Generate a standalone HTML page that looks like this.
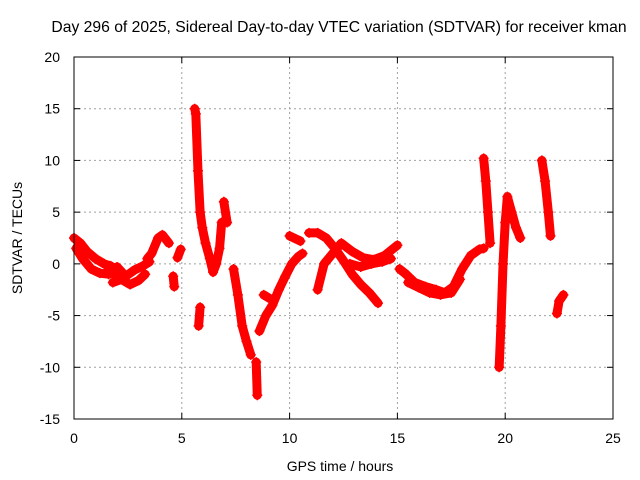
<!DOCTYPE html>
<html><head><meta charset="utf-8"><style>
body{margin:0;background:#fff}
svg{display:block;font-family:"Liberation Sans",sans-serif}
</style></head><body>
<svg id="chart" width="640" height="480">
<text x="339" y="32" text-anchor="middle" font-size="15.7">Day 296 of 2025, Sidereal Day-to-day VTEC variation (SDTVAR) for receiver kman</text>
<text x="340" y="471" text-anchor="middle" font-size="14">GPS time / hours</text>
<text transform="translate(22,238) rotate(-90)" text-anchor="middle" font-size="14">SDTVAR / TECUs</text>
<g id="grid"></g><g id="series"></g>
<rect x="74" y="57" width="539" height="362" fill="none" stroke="#000" stroke-width="1"/>
<g id="ticks"></g>
</svg>
<script>
const xTicks=[0,5,10,15,20,25];
const yTicks=[20,15,10,5,0,-5,-10,-15];
// traces: hours, values
const traceHours=[
[0,0.3,0.6,1.0,1.4,1.7],
[0.1,0.4,0.8,1.2,1.6,2.0],
[1.6,2.0,2.4,2.8,3.2,3.5],
[1.8,2.2,2.6,3.0,3.3],
[3.4,3.6,3.9,4.1,4.4],
[4.6,4.65],[4.8,4.95],
[5.6,5.65,5.75,5.85,5.95,6.1,6.3,6.45,6.6,6.75,6.85],
[5.78,5.85],[6.95,7.1],
[7.4,7.6,7.8,8.0,8.2],
[8.45,8.5],
[8.6,8.9,9.2,9.5,9.8,10.1,10.4,10.6],
[8.8,9.2],
[10.0,10.5],
[10.9,11.3,11.7,12.1,12.5,12.9,13.3,13.7,14.1],
[11.3,11.6,12.0,12.4,12.9,13.4,13.9,14.4,15.0],
[12.8,13.3,13.8,14.3,14.7],
[15.1,15.4,15.8,16.3,16.8,17.2,17.6,18.0,18.4,18.8,19.0],
[15.5,16.0,16.5,17.0,17.5,17.9],
[19.0,19.1,19.2,19.3],
[19.72,19.8,19.9,20.0,20.1,20.3,20.5,20.7],
[21.7,21.85,22.0,22.1],
[22.4,22.5,22.7]
];
const traceValues=[
[2.5,2,1.2,0.5,0,-0.2],
[1.5,0.5,-0.5,-0.9,-1,-0.8],
[-0.5,-0.3,-1.2,-0.6,-0.2,0.2],
[-1.8,-1.5,-2,-1.6,-1],
[0.5,1,2.5,2.8,2],
[-1.2,-2.2],[0.6,1.4],
[15,14.5,9,5,3.5,2,0.5,-0.8,0,1.5,4],
[-6,-4.2],[6,4],
[-0.5,-3,-6,-7.5,-8.8],
[-9.5,-12.7],
[-6.5,-5,-4,-2.5,-1.2,0,0.7,1],
[-3,-3.5],
[2.7,2.2],
[3,3,2.5,1.5,0.3,-1,-2,-2.8,-3.8],
[-2.5,0,1,2,1.2,0.6,0.4,0.8,1.8],
[0,-0.3,0,0.2,0.5],
[-0.5,-1,-1.8,-2.2,-2.5,-2.8,-2.2,-0.5,0.8,1.4,1.5],
[-1.8,-2.3,-2.8,-3,-2.8,-1.5],
[10.2,8,5,2],
[-10,-6,0,4,6.5,5,3.5,2.5],
[10,8,5,2.7],
[-4.8,-3.6,-3]
];
const X0=74,X1=613,Y0=57,Y1=419;
const xs=h=>X0+(h-0)/25*(X1-X0);
const ys=v=>Y1-(v+15)/35*(Y1-Y0);
const NS="http://www.w3.org/2000/svg";
const grid=document.getElementById('grid'),ticks=document.getElementById('ticks'),ser=document.getElementById('series');
function mk(tag,attrs,parent){const e=document.createElementNS(NS,tag);for(const k in attrs)e.setAttribute(k,attrs[k]);parent.appendChild(e);return e;}
xTicks.forEach(t=>{const x=xs(t);
 if(t>0&&t<25){const g=mk('line',{x1:x,x2:x,y1:Y0,y2:Y1,stroke:'#a0a0a0','stroke-dasharray':'2,3'},grid);
 
 }
 mk('line',{x1:x,x2:x,y1:Y1,y2:Y1-6,stroke:'#000'},ticks);mk('line',{x1:x,x2:x,y1:Y0,y2:Y0+6,stroke:'#000'},ticks);
 const l=mk('text',{x:x,y:Y1+24,'text-anchor':'middle','font-size':14},ticks);l.textContent=t;
 
 });
yTicks.forEach(t=>{const y=ys(t);
 if(t>-15&&t<20){const g=mk('line',{x1:X0,x2:X1,y1:y,y2:y,stroke:'#a0a0a0','stroke-dasharray':'2,3'},grid);
 
 }
 mk('line',{x1:X0,x2:X0+6,y1:y,y2:y,stroke:'#000'},ticks);mk('line',{x1:X1,x2:X1-6,y1:y,y2:y,stroke:'#000'},ticks);
 const l=mk('text',{x:X0-14,y:y+5,'text-anchor':'end','font-size':14},ticks);l.textContent=t;
 
 });
traceHours.forEach((hs,i)=>{const vs=traceValues[i];
 const pts=hs.map((h,j)=>xs(h)+','+ys(vs[j])).join(' ');
 const pl=mk('polyline',{points:pts,fill:'none',stroke:'#f00','stroke-width':9,'stroke-linejoin':'round','stroke-linecap':'round'},ser);
 
 
 hs.forEach((h,j)=>{const x=xs(h),y=ys(vs[j]);
  const p=mk('path',{d:`M${x-5},${y}H${x+5}M${x},${y-5}V${y+5}`,stroke:'#f00','stroke-width':1.5},ser);
  
  });
});
</script>
</body></html>
